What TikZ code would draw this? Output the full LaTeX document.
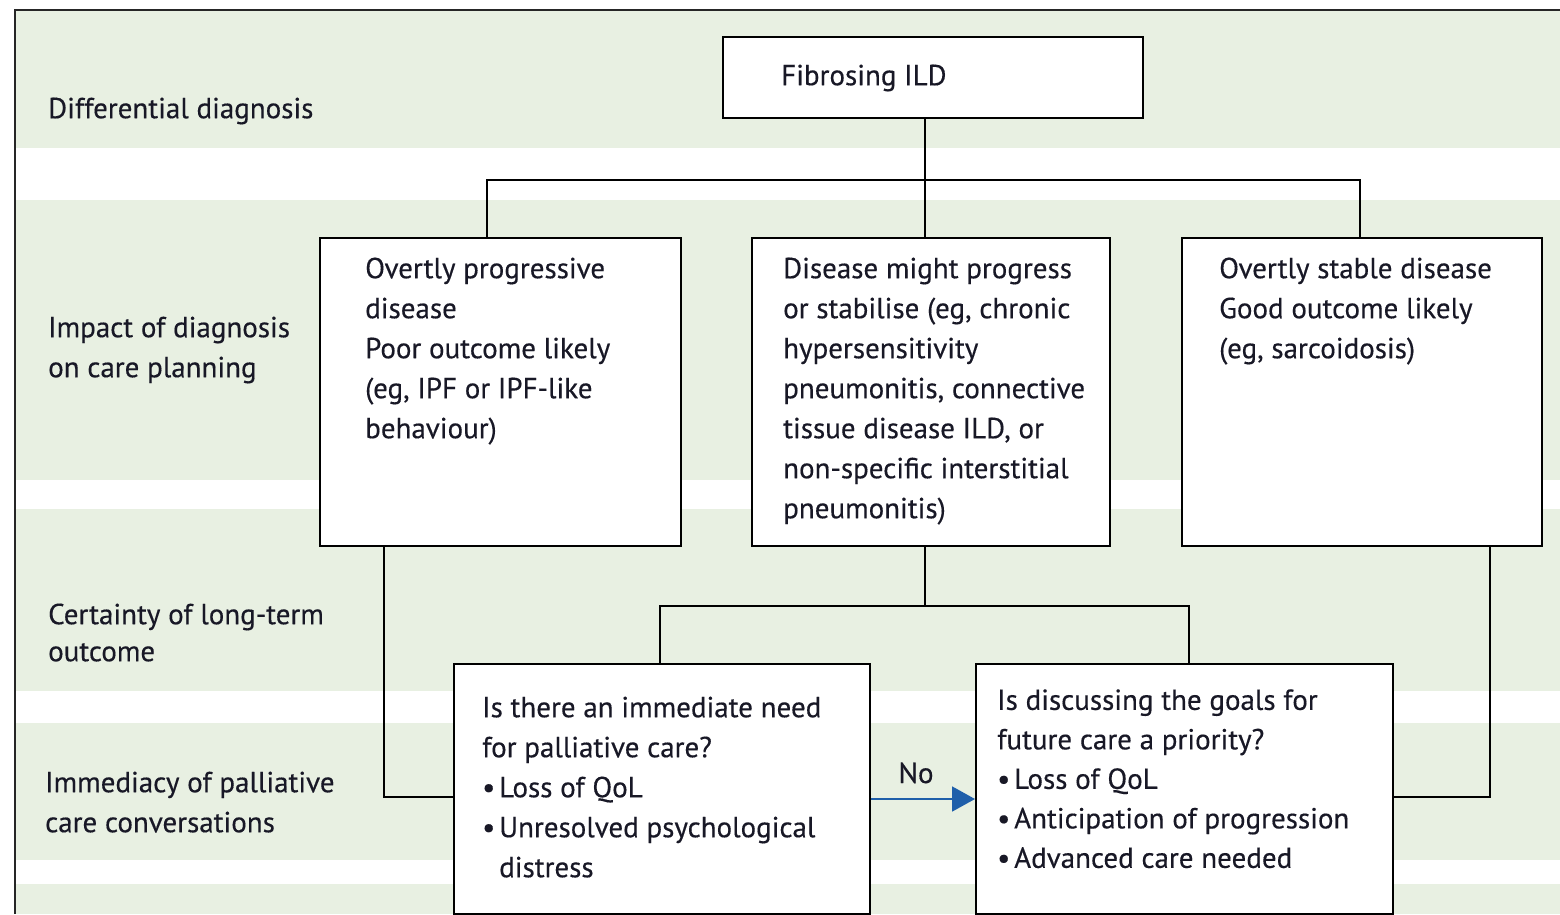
\documentclass[tikz,border=0pt]{standalone}
\usepackage{fontspec}
\setmainfont{PT Sans}[FakeBold=0.35]
\usetikzlibrary{arrows.meta}
\definecolor{band}{HTML}{E8F0E2}
\definecolor{ink}{HTML}{181826}
\definecolor{arrowblue}{HTML}{1F5FAA}
\newcommand{\bul}{\makebox[17pt][l]{\textbullet}}
\begin{document}
\begin{tikzpicture}[x=1pt,y=-1pt,
  txt/.style={font=\fontsize{29}{40}\selectfont, text=ink, inner sep=0pt, align=left, anchor=north west},
  boxs/.style={draw=black, line width=1.8pt, fill=white, inner sep=0pt, anchor=north west},
  conn/.style={draw=black, line width=1.8pt},
  bandfill/.style={fill=band, draw=none}]
\useasboundingbox (0,0) rectangle (1560,914);
% bands
\fill[bandfill] (15,10) rectangle (1560,148);
\fill[bandfill] (15,200) rectangle (1560,480);
\fill[bandfill] (15,509) rectangle (1560,691);
\fill[bandfill] (15,723) rectangle (1560,860);
\fill[bandfill] (15,884) rectangle (1560,914);
\draw[line width=2pt, black!85] (15,914) -- (15,10) -- (1560,10);
% row labels
\node[txt] (l1) at (48,90) {\strut Differential diagnosis};
\node[txt] (l2) at (48,309) {\strut Impact of diagnosis\\on care planning};
\node[txt] (l3) at (48,596) {\strut Certainty of long-term\\[-3pt]outcome};
\node[txt] (l4) at (45,764) {\strut Immediacy of palliative\\care conversations};
% boxes
\node[boxs, minimum width=420pt, minimum height=81pt] (ild) at (722,36) {};
\node[boxs, minimum width=361pt, minimum height=308pt] (left) at (319,237) {};
\node[boxs, minimum width=358pt, minimum height=308pt] (mid) at (751,237) {};
\node[boxs, minimum width=360pt, minimum height=308pt] (right) at (1181,237) {};
\node[boxs, minimum width=416pt, minimum height=250pt] (bl) at (453,663) {};
\node[boxs, minimum width=417pt, minimum height=250pt] (br) at (975,663) {};
% box texts
\node[txt] (tild) at (781,57) {\strut Fibrosing ILD};
\node[txt] (tleft) at (365,250) {\strut Overtly progressive\\disease\\Poor outcome likely\\(eg, IPF or IPF-like\\behaviour)};
\node[txt] (tmid) at (783,250) {\strut Disease might progress\\or stabilise (eg, chronic\\hypersensitivity\\pneumonitis, connective\\tissue disease ILD, or\\non-specific interstitial\\pneumonitis)};
\node[txt] (tright) at (1219,250) {\strut Overtly stable disease\\Good outcome likely\\(eg, sarcoidosis)};
\node[txt] (tbl) at (482,689) {\strut Is there an immediate need\\for palliative care?\\\bul Loss of QoL\\\bul Unresolved psychological\\\hspace*{17pt}distress};
\node[txt, font=\fontsize{29}{39.5}\selectfont] (tbr) at (997,682) {\strut Is discussing the goals for\\future care a priority?\\\bul Loss of QoL\\\bul Anticipation of progression\\\bul Advanced care needed};
% connector coordinates
\coordinate (xA) at (487,180);
\coordinate (xM) at (925,180);
\coordinate (xR) at (1360,180);
\coordinate (bM) at (925,606);
\coordinate (b1) at (660,606);
\coordinate (b2) at (1189,606);
\coordinate (cL) at (384,797);
\coordinate (cR) at (1490,797);
\coordinate (ar) at (920,799);
% connectors
\draw[conn] (ild.south -| xM) -- (mid.north -| xM);
\draw[conn] (left.north -| xA) -- (xA) -- (xR) -- (right.north -| xR);
\draw[conn] (mid.south -| bM) -- (bM);
\draw[conn] (bl.north -| b1) -- (b1) -- (b2) -- (br.north -| b2);
\draw[conn] (left.south -| cL) -- (cL) -- (bl.west |- cL);
\draw[conn] (right.south -| cR) -- (cR) -- (br.east |- cR);
\draw[draw=arrowblue, line width=1.8pt, -{Triangle[length=23pt,width=25pt]}] (bl.east |- ar) -- (br.west |- ar);
\node[font=\fontsize{29}{40}\selectfont, text=ink, inner sep=0pt, anchor=base] (no) at (916,783) {No};
\end{tikzpicture}
\end{document}
